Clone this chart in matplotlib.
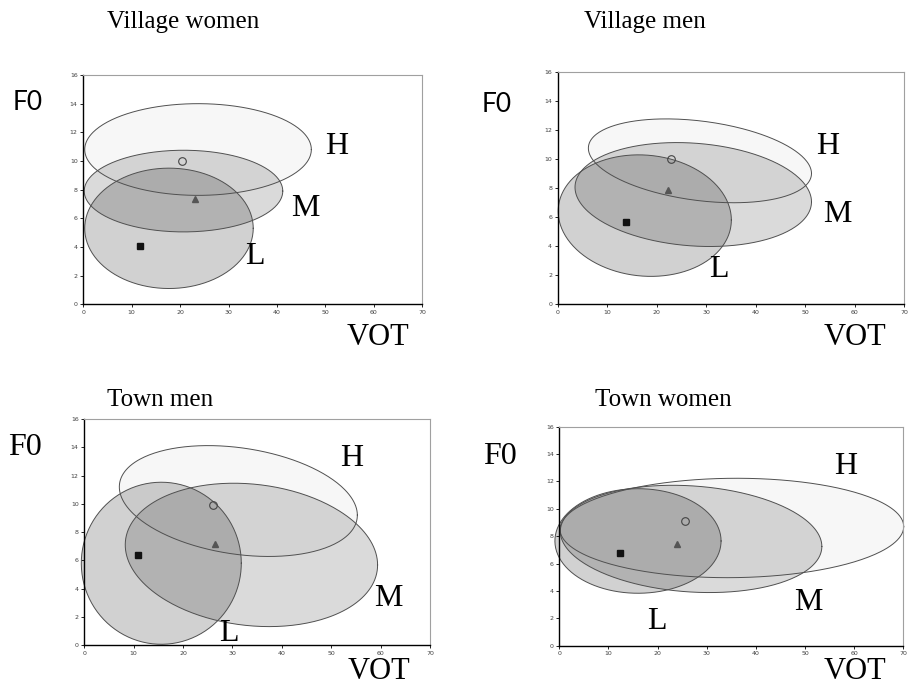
import numpy as np
import matplotlib
matplotlib.use('Agg')
import matplotlib.pyplot as plt

panels = ['Village women', 'Village men', 'Town men', 'Town women']
tones = ['H', 'M', 'L']

# ellipse per tone (H, M, L): centre, half width in VOT, drop of right end, half height
ell_cx = [[23.7, 20.7, 17.7], [28.75, 27.4, 17.6], [31.2, 33.85, 15.6], [35.1, 26.8, 16.0]]
ell_cy = [[10.8, 7.9, 5.3], [9.87, 7.55, 6.1], [10.2, 6.39, 5.8], [8.6, 7.8, 7.65]]
ell_a = [[23.4, 20.5, 17.4], [22.55, 23.9, 17.5], [24.1, 25.55, 16.2], [34.95, 26.6, 16.9]]
ell_k = [[0.0, 0.0, 0.0], [-0.87, -0.5, -0.3], [-1.0, -0.71, 0.0], [0.1, -0.55, 0.0]]
ell_b = [[3.2, 2.85, 4.2], [2.75, 3.54, 4.17], [3.79, 5.02, 5.73], [3.63, 3.88, 3.82]]

# tone means (H, M, L)
mean_vot = [[20.3, 23.1, 11.8], [23.0, 22.3, 13.75], [26.1, 26.5, 10.9], [25.55, 23.9, 12.3]]
mean_f0 = [[10.0, 7.35, 4.1], [9.98, 7.87, 5.69], [9.9, 7.16, 6.39], [9.1, 7.4, 6.75]]

# layout
axes_rect = [[0.0917, 0.5558, 0.3733, 0.3347],
             [0.6142, 0.5558, 0.3814, 0.3395],
             [0.0928, 0.0580, 0.3807, 0.3303],
             [0.6160, 0.0574, 0.3790, 0.3197]]
label_pos = [[(52.3, 11.0), (45.8, 6.7), (35.4, 3.3)],
             [(54.5, 10.85), (56.5, 6.15), (32.6, 2.36)],
             [(54.2, 13.2), (61.6, 3.3), (29.2, 0.85)],
             [(58.3, 13.1), (50.7, 3.14), (19.85, 1.75)]]
title_pos = [(0.202, 0.968), (0.710, 0.968), (0.176, 0.416), (0.731, 0.416)]
f0_pos = [(0.030, 0.850), (0.547, 0.848), (0.0275, 0.346), (0.551, 0.333)]
vot_pos = [(0.416, 0.5066), (0.942, 0.5066), (0.417, 0.020), (0.942, 0.020)]
fill_alpha = [0.03, 0.145, 0.18]
serif = 'Liberation Serif'

fig = plt.figure(figsize=(9.08, 6.85), dpi=100)
t = np.linspace(0, 2 * np.pi, 300)

for p in range(4):
    ax = fig.add_axes(axes_rect[p])
    for j in range(3):
        x = ell_cx[p][j] + ell_a[p][j] * np.cos(t)
        y = ell_cy[p][j] + ell_k[p][j] * np.cos(t) + ell_b[p][j] * np.sin(t)
        ax.fill(x, y, facecolor='black', alpha=fill_alpha[j], edgecolor='none', clip_on=False)
        ax.plot(x, y, color='#505050', lw=0.7, clip_on=False)
        lx, ly = label_pos[p][j]
        ax.text(lx, ly, tones[j], fontsize=23, family=serif, ha='center', va='center')

    ax.plot(mean_vot[p][0], mean_f0[p][0], 'o', ms=5.5, mfc='none', mec='#444444', mew=0.8)
    ax.plot(mean_vot[p][1], mean_f0[p][1], '^', ms=5, color='#555555')
    ax.plot(mean_vot[p][2], mean_f0[p][2], 's', ms=5, color='#111111')

    ax.set_xlim(0, 70)
    ax.set_ylim(0, 16)
    ax.set_xticks(range(0, 71, 10))
    ax.set_yticks(range(0, 17, 2))
    ax.tick_params(labelsize=4.5, labelcolor='#404040', length=2, width=0.6, pad=2)
    for s in ['left', 'bottom']:
        ax.spines[s].set_color('black')
        ax.spines[s].set_linewidth(1.0)
    for s in ['top', 'right']:
        ax.spines[s].set_color('#a0a0a0')
        ax.spines[s].set_linewidth(0.8)

    fig.text(*title_pos[p], panels[p], fontsize=18, family=serif, ha='center', va='center')
    fig.text(*vot_pos[p], 'VOT', fontsize=22, family=serif, ha='center', va='center')
    if p < 2:
        fig.text(*f0_pos[p], 'F0', fontsize=19, family='Lato', ha='center', va='center')
    else:
        fig.text(*f0_pos[p], 'F0', fontsize=23, family=serif, ha='center', va='center')

fig.savefig('out.png', dpi=100)
